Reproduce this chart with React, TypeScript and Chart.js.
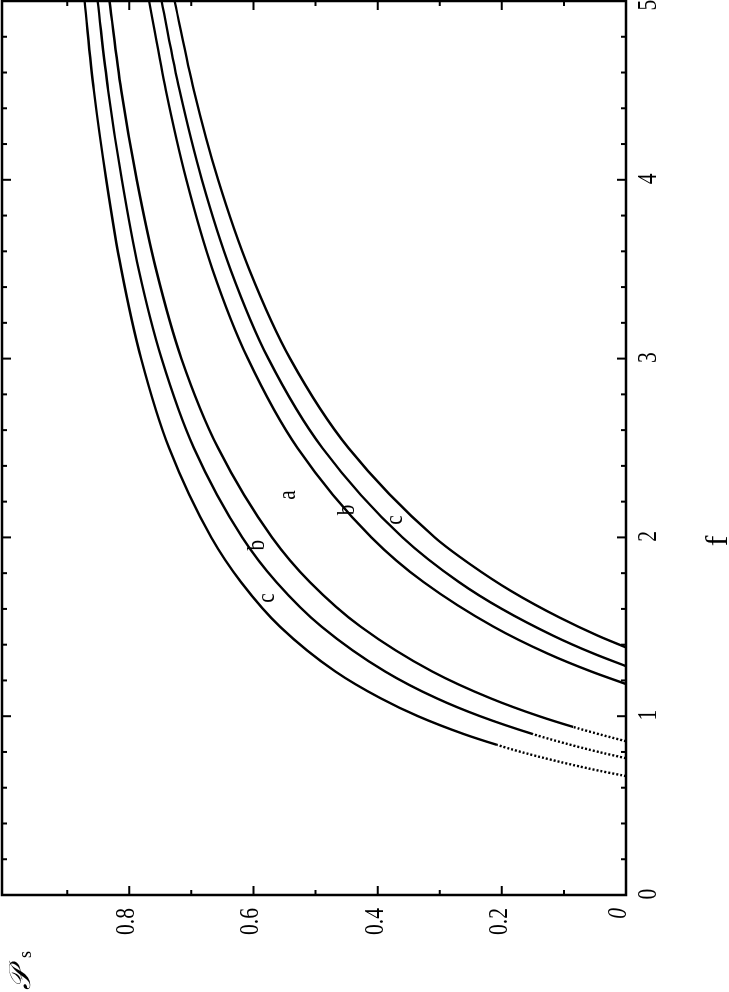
import React, { useEffect, useRef } from "react";
import { Chart, registerables } from "chart.js";

Chart.register(...registerables);

// Curve a/b/c, left group (with dotted low-f part)
const fA1 = [0.665, 0.7, 0.75, 0.8, 0.84, 0.9, 1.0, 1.1, 1.25, 1.5, 1.75, 2.0, 2.5, 3.0, 3.5, 4.0, 4.5, 5.0];
const pA1 = [0, 0.05, 0.113, 0.169, 0.208, 0.261, 0.335, 0.395, 0.468, 0.557, 0.62, 0.668, 0.736, 0.781, 0.813, 0.837, 0.857, 0.872];
const fA2 = [0.765, 0.8, 0.85, 0.9, 1.0, 1.1, 1.25, 1.5, 1.75, 2.0, 2.5, 3.0, 3.5, 4.0, 4.5, 5.0];
const pA2 = [0, 0.044, 0.1, 0.15, 0.235, 0.305, 0.388, 0.49, 0.563, 0.618, 0.696, 0.748, 0.785, 0.812, 0.834, 0.851];
const fA3 = [0.86, 0.9, 0.94, 1.0, 1.1, 1.25, 1.5, 1.75, 2.0, 2.5, 3.0, 3.5, 4.0, 4.5, 5.0];
const pA3 = [0, 0.044, 0.085, 0.14, 0.218, 0.312, 0.427, 0.509, 0.57, 0.657, 0.716, 0.757, 0.788, 0.813, 0.832];
// right group
const fB1 = [1.18, 1.25, 1.35, 1.5, 1.75, 2.0, 2.5, 3.0, 3.5, 4.0, 4.5, 5.0];
const pB1 = [0, 0.056, 0.126, 0.213, 0.326, 0.41, 0.529, 0.609, 0.666, 0.708, 0.741, 0.768];
const fB2 = [1.28, 1.35, 1.45, 1.6, 1.75, 2.0, 2.5, 3.0, 3.5, 4.0, 4.5, 5.0];
const pB2 = [0, 0.052, 0.117, 0.2, 0.269, 0.36, 0.489, 0.576, 0.637, 0.683, 0.719, 0.748];
const fB3 = [1.385, 1.45, 1.55, 1.7, 1.85, 2.0, 2.5, 3.0, 3.5, 4.0, 4.5, 5.0];
const pB3 = [0, 0.045, 0.106, 0.185, 0.251, 0.308, 0.447, 0.541, 0.607, 0.657, 0.696, 0.727];

// f below which the left curves are dotted
const dotEnds = [0.84, 0.9, 0.94, 0, 0, 0];

const fTickValues = [0, 1, 2, 3, 4, 5];
const fTickLabels = ["0", "1", "2", "3", "4", "5"];
const pTickValues = [0, 0.2, 0.4, 0.6, 0.8];
const pTickLabels = ["0", "0.2", "0.4", "0.6", "0.8"];

const curveLabels = ["c", "b", "a", "b", "c"];
const curveLabelF = [1.661, 1.957, 2.237, 2.153, 2.097];
const curveLabelP = [0.577, 0.593, 0.544, 0.449, 0.372];

const SERIF = "'Liberation Serif', 'Times New Roman', serif";

const decorPlugin = {
  id: "decor",
  beforeDraw(chart: any) {
    const ctx = chart.ctx;
    ctx.save();
    ctx.fillStyle = "#fff";
    ctx.fillRect(0, 0, chart.width, chart.height);
    ctx.restore();
  },
  afterDraw(chart: any) {
    const ctx = chart.ctx;
    const xs = chart.scales.x;
    const ys = chart.scales.y;
    const { left, right, top, bottom } = chart.chartArea;
    ctx.save();
    ctx.strokeStyle = "#000";
    ctx.fillStyle = "#000";
    ctx.lineWidth = 2.5;
    ctx.strokeRect(left, top, right - left, bottom - top);

    // f ticks (every 0.2, major every 1)
    ctx.lineWidth = 2;
    for (let i = 1; i < 25; i++) {
      const v = i * 0.2;
      const px = xs.getPixelForValue(v);
      const len = i % 5 === 0 ? 9 : 5;
      ctx.beginPath();
      ctx.moveTo(px, bottom);
      ctx.lineTo(px, bottom - len);
      ctx.moveTo(px, top);
      ctx.lineTo(px, top + len);
      ctx.stroke();
    }
    // P ticks (every 0.1, major every 0.2)
    for (let i = 1; i < 10; i++) {
      const v = i * 0.1;
      const py = ys.getPixelForValue(v);
      const len = i % 2 === 0 ? 9 : 5;
      ctx.beginPath();
      ctx.moveTo(left, py);
      ctx.lineTo(left + len, py);
      ctx.moveTo(right, py);
      ctx.lineTo(right - len, py);
      ctx.stroke();
    }

    // f tick labels
    ctx.font = `27px ${SERIF}`;
    ctx.textAlign = "center";
    ctx.textBaseline = "alphabetic";
    fTickValues.forEach((v, i) => {
      const px = Math.min(xs.getPixelForValue(v) + 1, chart.width - 5);
      ctx.save();
      ctx.translate(px, 656);
      ctx.scale(0.8, 1);
      ctx.fillText(fTickLabels[i], 0, 0);
      ctx.restore();
    });

    // P tick labels
    ctx.textAlign = "right";
    pTickValues.forEach((v, i) => {
      const py = ys.getPixelForValue(v);
      ctx.save();
      if (v === 0) {
        ctx.font = `italic 27px ${SERIF}`;
        ctx.translate(84, py);
      } else {
        ctx.font = `27px ${SERIF}`;
        ctx.translate(84, py + 5);
      }
      ctx.scale(0.8, 1);
      ctx.fillText(pTickLabels[i], 0, 0);
      ctx.restore();
    });

    // axis titles
    ctx.textAlign = "center";
    ctx.font = `32px ${SERIF}`;
    ctx.fillText("f", 451, 727);

    ctx.textAlign = "left";
    ctx.font = `italic 30px ${SERIF}`;
    ctx.fillText("\u{1D4AB}", 2, 30);
    ctx.font = `18px ${SERIF}`;
    ctx.fillText("s", 34, 31);

    // curve labels
    ctx.textAlign = "center";
    ctx.textBaseline = "middle";
    ctx.font = `25px ${SERIF}`;
    curveLabels.forEach((t, i) => {
      const px = xs.getPixelForValue(curveLabelF[i]);
      const py = ys.getPixelForValue(curveLabelP[i]);
      ctx.save();
      ctx.translate(px, py);
      ctx.scale(0.85, 1);
      ctx.fillText(t, 0, 0);
      ctx.restore();
    });
    ctx.restore();
  },
};

function makeSet(fs: number[], ps: number[], dotEnd: number) {
  return {
    data: fs.map((f, i) => ({ x: f, y: ps[i] })),
    borderColor: "#000",
    borderWidth: 2.4,
    pointRadius: 0,
    fill: false,
    cubicInterpolationMode: "monotone" as const,
    segment: {
      borderDash: (c: any) => (c.p1.parsed.x <= dotEnd + 1e-9 ? [2, 2] : undefined),
    },
  };
}

export default function App() {
  const ref = useRef<HTMLCanvasElement | null>(null);
  useEffect(() => {
    if (!ref.current) return;
    const chart = new Chart(ref.current, {
      type: "line",
      data: {
        datasets: [
          makeSet(fA1, pA1, dotEnds[0]),
          makeSet(fA2, pA2, dotEnds[1]),
          makeSet(fA3, pA3, dotEnds[2]),
          makeSet(fB1, pB1, dotEnds[3]),
          makeSet(fB2, pB2, dotEnds[4]),
          makeSet(fB3, pB3, dotEnds[5]),
        ],
      },
      options: {
        animation: false,
        responsive: false,
        devicePixelRatio: 1,
        layout: { padding: { left: 97, right: 1, top: 2, bottom: 103 } },
        plugins: { legend: { display: false }, tooltip: { enabled: false } },
        scales: {
          x: { type: "linear", min: 0, max: 5, display: false },
          y: { type: "linear", min: 0, max: 1.005, display: false },
        },
      },
      plugins: [decorPlugin],
    } as any);
    return () => chart.destroy();
  }, []);

  return (
    <div
      style={{
        position: "fixed",
        left: 0,
        top: 0,
        width: 729,
        height: 992,
        overflow: "hidden",
        background: "#fff",
      }}
    >
      <canvas
        ref={ref}
        width={992}
        height={729}
        style={{
          position: "absolute",
          left: 0,
          top: 0,
          transformOrigin: "0 0",
          transform: "translate(0px, 992px) rotate(-90deg)",
        }}
      />
    </div>
  );
}
